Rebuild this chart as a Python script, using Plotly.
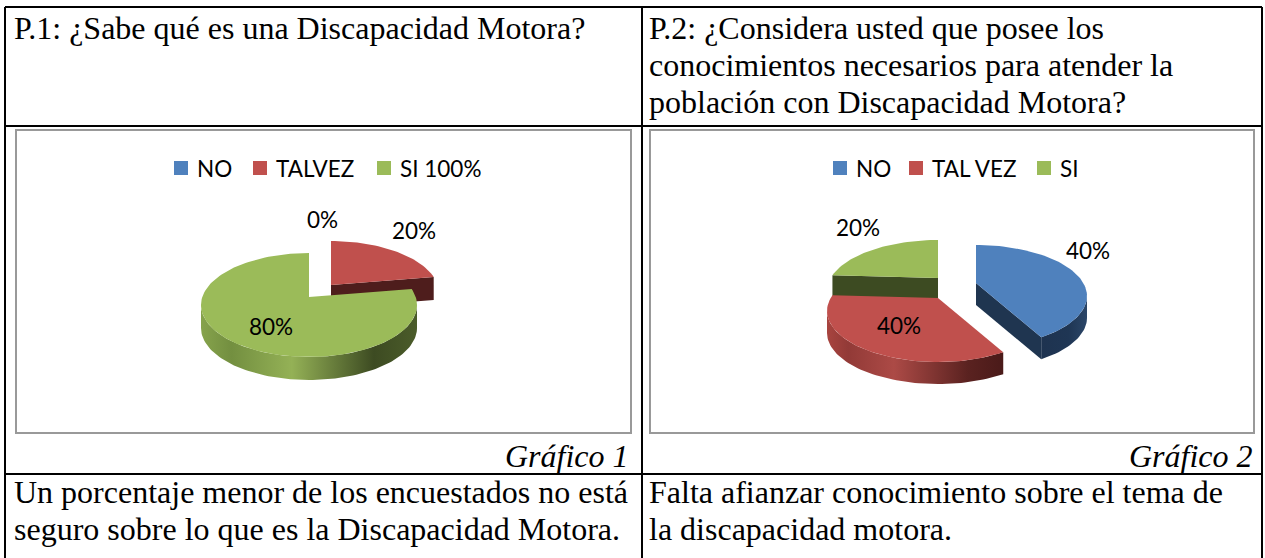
import math
import plotly.graph_objects as go

W, H = 1265, 558

# ---------------- data ----------------
categories1 = ["NO", "TALVEZ", "SI 100%"]
values1 = [0, 20, 80]
categories2 = ["NO", "TAL VEZ", "SI"]
values2 = [40, 40, 20]

header1 = ["P.1: ¿Sabe qué es una Discapacidad Motora?"]
header2 = ["P.2: ¿Considera usted que posee los",
           "conocimientos necesarios para atender la",
           "población con Discapacidad Motora?"]
caption1 = "Gráfico 1"
caption2 = "Gráfico 2"
footer1 = ["Un porcentaje menor de los encuestados no está",
           "seguro sobre lo que es la Discapacidad Motora."]
footer2 = ["Falta afianzar conocimiento sobre el tema de",
           "la discapacidad motora."]

# ---------------- styles ----------------
TOP = ["#4F81BD", "#C0504D", "#9BBB59"]
FACE = ["#1F3550", "#4E1D1C", "#3D4B22"]
WALL = [
    [[0, "#1E3350"], [0.6, "#1F3654"], [1, "#2B4668"]],
    [[0, "#A8443F"], [0.12, "#923A37"], [0.38, "#AC4A46"], [0.8, "#5A2220"], [1, "#4A1A19"]],
    [[0, "#86A34C"], [0.14, "#738F40"], [0.42, "#94B156"], [0.8, "#3D4B22"], [1, "#4B5C2A"]],
]
SERIF = "Liberation Serif"
SANS = "Lato"
TXT = 32
CH = 22.5

fig = go.Figure()


def poly(xs, ys, color=None, grad=None):
    kw = dict(x=xs + [xs[0]], y=ys + [ys[0]], mode="lines", fill="toself",
              line=dict(width=0), hoverinfo="skip", showlegend=False)
    if grad is not None:
        kw["fillgradient"] = dict(type="horizontal", colorscale=grad)
        kw["fillcolor"] = grad[0][1]
    else:
        kw["fillcolor"] = color
    fig.add_trace(go.Scatter(**kw))


def pie3d(values, geo, offsets, label_k, label_nudge):
    cx, cy, rx, ry, apex_dy, depth = geo
    total = float(sum(values))
    start = 90.0
    slices = []
    for i, v in enumerate(values):
        span = 360.0 * v / total
        s, e = start, start - span
        start = e
        slices.append((i, v, s, e, (s + e) / 2))

    def P(t, ox, oy, dz):
        r = math.radians(t)
        return cx + ox + rx * math.cos(r), cy + oy - ry * math.sin(r) + dz

    def A(ox, oy, dz):
        return cx + ox, cy + apex_dy + oy + dz

    order = sorted(slices, key=lambda s_: -math.sin(math.radians(s_[4])))
    for i, v, s, e, m in order:
        if v == 0:
            continue
        ox, oy = offsets[i]
        n = max(8, int(abs(s - e) / 2))
        angs = [s + (e - s) * k / n for k in range(n + 1)]
        # radial faces
        for edge, normal in ((s, s + 90), (e, e - 90)):
            if math.sin(math.radians(normal)) < -1e-6:
                a0 = A(ox, oy, 0); p0 = P(edge, ox, oy, 0)
                p1 = P(edge, ox, oy, depth); a1 = A(ox, oy, depth)
                poly([a0[0], p0[0], p1[0], a1[0]], [a0[1], p0[1], p1[1], a1[1]], color=FACE[i])
        # outer wall (front half only)
        for k in (-1, 0, 1):
            lo = max(e, -180 + 360 * k)
            hi = min(s, 0 + 360 * k)
            if hi - lo > 0.1:
                nn = max(6, int((hi - lo) / 2))
                ts = [hi - (hi - lo) * j / nn for j in range(nn + 1)]
                top = [P(t, ox, oy, 0) for t in ts]
                bot = [P(t, ox, oy, depth) for t in reversed(ts)]
                pts = top + bot
                poly([p[0] for p in pts], [p[1] for p in pts], grad=WALL[i])
        # top surface
        pts = [A(ox, oy, 0)] + [P(t, ox, oy, 0) for t in angs]
        poly([p[0] for p in pts], [p[1] for p in pts], color=TOP[i])

    # labels
    for i, v, s, e, m in slices:
        ox, oy = offsets[i]
        r = math.radians(m)
        ax, ay = A(ox, oy, 0)
        lx = ax + label_k[i] * rx * math.cos(r) + label_nudge[i][0]
        ly = ay - label_k[i] * ry * math.sin(r) + label_nudge[i][1]
        fig.add_annotation(x=lx, y=ly, xref="x", yref="y",
                           text=f"{round(100 * v / total)}%", showarrow=False,
                           font=dict(family=SANS, size=CH, color="#000000"))


def legend(cats, xs, y):
    for i, (c, x) in enumerate(zip(cats, xs)):
        fig.add_shape(type="rect", x0=x, x1=x + 14, y0=y - 7, y1=y + 7,
                      xref="x", yref="y", fillcolor=TOP[i], line=dict(width=0))
        fig.add_annotation(x=x + 21, y=y, xref="x", yref="y", text=c, showarrow=False,
                           xanchor="left", font=dict(family=SANS, size=CH, color="#000000"))


# chart boxes
for x0, x1 in ((16, 631), (650, 1254)):
    fig.add_shape(type="rect", x0=x0, x1=x1, y0=130, y1=433, xref="x", yref="y",
                  line=dict(color="#999999", width=2), fillcolor="white", layer="below")

legend(categories1, [174, 253, 377], 168)
legend(categories2, [833, 909, 1037], 168)

pie3d(values1, (309, 305, 108, 52, -8, 23),
      [(0, 0), (22, -12), (0, 0)],
      [1.5, 1.3, 0.6], [(13, 0), (0, 0), (0, 4)])
pie3d(values2, (938, 311, 111, 51, -13, 22),
      [(38, -15), (0, 0), (0, -20)],
      [1.06, 0.6, 1.22], [(0, -16), (0, 3), (0, 0)])

# table lines
LC = "#000000"
for x0, y0, x1, y1 in ((5, 7, 1262, 7), (5, 126, 1262, 126), (5, 474, 1262, 474),
                       (5, 7, 5, H), (1262, 7, 1262, H), (642, 7, 642, H)):
    fig.add_shape(type="line", x0=x0, y0=y0, x1=x1, y1=y1, xref="x", yref="y",
                  line=dict(color=LC, width=2))

# table text
def text_lines(lines, x, y0, dy=37):
    for k, t in enumerate(lines):
        fig.add_annotation(x=x, y=y0 + k * dy, xref="x", yref="y", text=t, showarrow=False,
                           xanchor="left", font=dict(family=SERIF, size=TXT, color="#000000"))

text_lines(header1, 12, 28)
text_lines(header2, 647, 28)
text_lines(footer1, 12, 492)
text_lines(footer2, 647, 492)
for t, x in ((caption1, 631), (caption2, 1255)):
    fig.add_annotation(x=x, y=456, xref="x", yref="y", text=f"<i>{t}</i>", showarrow=False,
                       xanchor="right", font=dict(family=SERIF, size=TXT, color="#000000"))

fig.update_xaxes(range=[0, W], visible=False, fixedrange=True)
fig.update_yaxes(range=[H, 0], visible=False, fixedrange=True)
fig.update_layout(width=W, height=H, margin=dict(l=0, r=0, t=0, b=0, pad=0),
                  paper_bgcolor="white", plot_bgcolor="white", showlegend=False)

fig.write_html("out.html", config={"displayModeBar": False},
               post_script="document.body.style.margin='0';document.body.style.overflow='hidden';")
